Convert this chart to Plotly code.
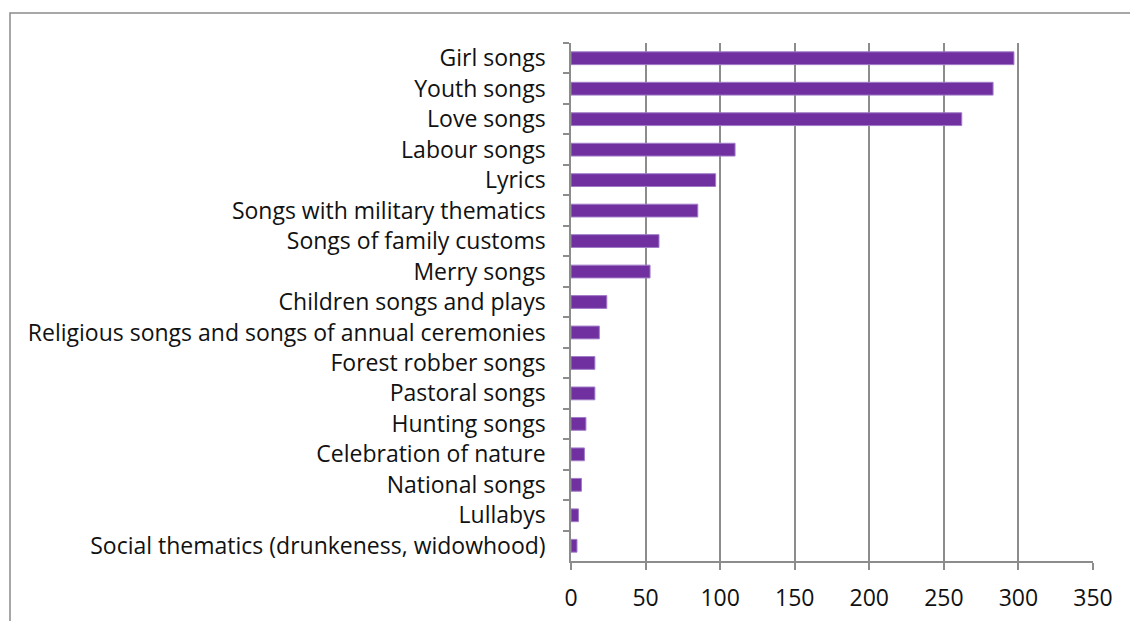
import plotly.graph_objects as go

# Song genres, top of the list first
categories = [
    "Girl songs",
    "Youth songs",
    "Love songs",
    "Labour songs",
    "Lyrics",
    "Songs with military thematics",
    "Songs of family customs",
    "Merry songs",
    "Children songs and plays",
    "Religious songs and songs of annual ceremonies",
    "Forest robber songs",
    "Pastoral songs",
    "Hunting songs",
    "Celebration of nature",
    "National songs",
    "Lullabys",
    "Social thematics (drunkeness, widowhood)",
]
counts = [297, 283, 262, 110, 97, 85, 59, 53, 24, 19, 16, 16, 10, 9, 7, 5, 4]
x_ticks = [0, 50, 100, 150, 200, 250, 300, 350]

GRID = "#8c8c8c"
FONT = "Open Sans"
TEXT = "#111111"
FS = 23

# plot area in pixels: left 571, right 1093, top 43, bottom 561
PW, PH = 522, 518

fig = go.Figure(
    go.Bar(
        x=counts,
        y=categories,
        orientation="h",
        width=0.42,
        marker=dict(color="#7030A0", line=dict(color="#a07cc8", width=1)),
    )
)

fig.update_layout(
    width=1130,
    height=621,
    margin=dict(l=571, r=37, t=43, b=60),
    paper_bgcolor="white",
    plot_bgcolor="white",
    showlegend=False,
    font=dict(family=FONT, size=FS, color=TEXT),
    xaxis=dict(
        range=[0, 350],
        tickvals=x_ticks,
        ticktext=[str(v) for v in x_ticks],
        showgrid=True,
        gridcolor=GRID,
        gridwidth=1.5,
        showline=True,
        linecolor=GRID,
        linewidth=1.5,
        ticks="outside",
        ticklen=7,
        tickwidth=1.5,
        tickcolor=GRID,
        ticklabelstandoff=9,
        zeroline=False,
        automargin=False,
        tickfont=dict(family=FONT, size=FS, color=TEXT),
    ),
    yaxis=dict(
        type="category",
        categoryorder="array",
        categoryarray=categories,
        autorange="reversed",
        showgrid=False,
        showline=True,
        linecolor=GRID,
        linewidth=1.5,
        ticks="outside",
        tickson="boundaries",
        ticklen=6,
        tickwidth=1.5,
        tickcolor=GRID,
        ticklabelstandoff=19,
        automargin=False,
        tickfont=dict(family=FONT, size=FS, color=TEXT),
    ),
    shapes=[
        dict(
            type="rect",
            xref="paper",
            yref="paper",
            x0=(10 - 571) / PW,
            x1=(1140 - 571) / PW,
            y0=(561 - 640) / PH,
            y1=1 + 30 / PH,
            line=dict(color="#8a8a8a", width=1.5),
            fillcolor="rgba(0,0,0,0)",
            layer="below",
        )
    ],
)

fig.write_html("out.html")
